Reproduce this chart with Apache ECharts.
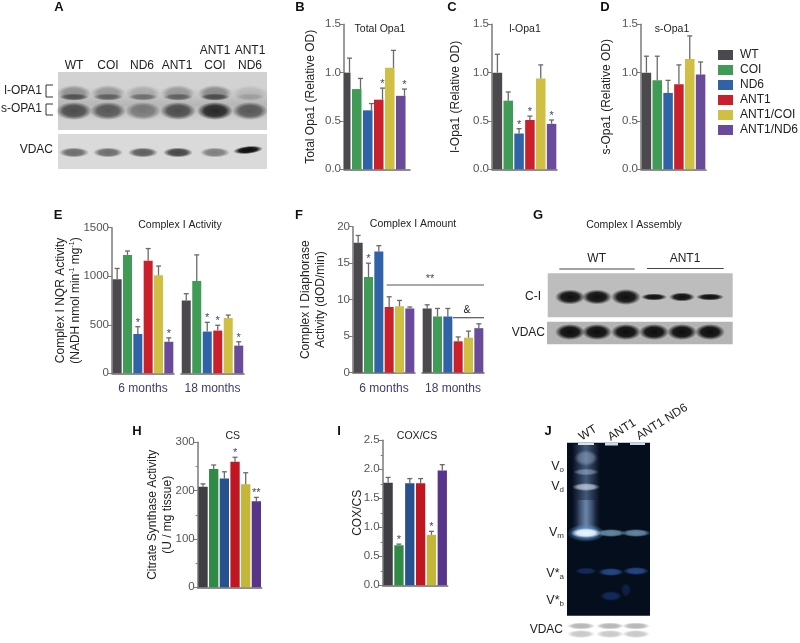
<!DOCTYPE html>
<html>
<head>
<meta charset="utf-8">
<style>
  html, body { margin: 0; background: #fff; }
  #chart { width: 800px; height: 643px; }
</style>
<script src="https://cdn.jsdelivr.net/npm/echarts@6/dist/echarts.min.js"></script>
</head>
<body>
<div id="chart"></div>
<script>
const groups = ["WT", "COI", "ND6", "ANT1", "ANT1/COI", "ANT1/ND6"]
const barColors = ["#4b494d", "#3f9b55", "#2f62a7", "#c9202b", "#cfc043", "#6a4a9a"]
const barColorsDark = ["#3f3e42", "#2f8a45", "#27508f", "#bf1622", "#c4b638", "#57358a"]

// value, top of error bar, significance mark
const totalOpa1Val = [1.0, 0.83, 0.61, 0.72, 1.05, 0.76]
const totalOpa1Top = [1.15, 0.94, 0.68, 0.84, 1.23, 0.83]
const totalOpa1Sig = ["", "", "", "*", "", "*"]
const lOpa1Val = [1.0, 0.71, 0.37, 0.51, 0.94, 0.47]
const lOpa1Top = [1.19, 0.8, 0.42, 0.55, 1.08, 0.51]
const lOpa1Sig = ["", "", "*", "*", "", "*"]
const sOpa1Val = [1.0, 0.92, 0.79, 0.88, 1.14, 0.98]
const sOpa1Top = [1.17, 1.17, 0.92, 1.08, 1.38, 1.11]
const sOpa1Sig = ["", "", "", "", "", ""]

const activity6Val = [970, 1220, 405, 1160, 1010, 325]
const activity6Top = [1080, 1260, 480, 1285, 1105, 365]
const activity6Sig = ["", "", "*", "", "", "*"]
const activity18Val = [750, 950, 430, 440, 570, 285]
const activity18Top = [820, 1220, 525, 495, 600, 325]
const activity18Sig = ["", "", "*", "*", "", "*"]

const amount6Val = [17.8, 13.1, 16.6, 9.0, 9.1, 8.8]
const amount6Top = [18.8, 15.0, 17.4, 10.4, 9.9, 9.0]
const amount6Sig = ["", "*", "", "", "", ""]
const amount18Val = [8.8, 7.7, 7.7, 4.3, 4.8, 6.1]
const amount18Top = [9.3, 8.8, 8.8, 4.9, 5.7, 6.7]
const amount18Sig = ["", "", "", "", "", ""]

const csVal = [208, 245, 225, 260, 213, 178]
const csTop = [214, 253, 239, 269, 237, 186]
const csSig = ["", "", "", "*", "", "**"]
const coxVal = [1.77, 0.69, 1.76, 1.76, 0.87, 1.98]
const coxTop = [1.86, 0.71, 1.84, 1.84, 0.93, 2.08]
const coxSig = ["", "*", "", "", "*", ""]

const FONT = '"Liberation Sans", Arial, sans-serif'
const grids = []
const xAxes = []
const yAxes = []
const series = []

function addPanel(p) {
  const idx = grids.length
  const colors = p.colors || barColors
  grids.push({ left: p.left, top: p.top, width: p.width, height: p.height })
  xAxes.push({
    gridIndex: idx,
    type: "category",
    data: groups,
    axisLine: { show: true, lineStyle: { color: "#6a6a6a", width: 1.5 } },
    axisTick: { show: false },
    axisLabel: { show: false },
    name: p.xName || "",
    nameLocation: "middle",
    nameGap: 9.5,
    nameTextStyle: { color: "#3d3d6c", fontFamily: FONT, fontSize: 12 },
  })
  yAxes.push({
    gridIndex: idx,
    show: p.showY !== false,
    type: "value",
    min: 0,
    max: p.max,
    interval: p.interval,
    axisLine: { show: true, lineStyle: { color: "#7a7a7a", width: 1.5 } },
    axisTick: { show: true, length: 4, lineStyle: { color: "#7a7a7a", width: 1 } },
    minorTick: { show: !!p.minor, splitNumber: 2, length: 2, lineStyle: { color: "#7a7a7a" } },
    splitLine: { show: false },
    axisLabel: { color: "#555", fontFamily: FONT, fontSize: 11.5, margin: 3, formatter: p.format || ((v) => String(v)) },
    name: p.yName || "",
    nameLocation: "middle",
    nameRotate: 90,
    nameGap: p.nameGap,
    nameMoveOverlap: false,
    nameTextStyle: {
      color: "#222",
      fontFamily: FONT,
      fontSize: 12,
      lineHeight: 15,
      rich: { sup: { fontSize: 7, verticalAlign: "top", color: "#222", fontFamily: FONT } },
    },
  })
  series.push({
    type: "bar",
    xAxisIndex: idx,
    yAxisIndex: idx,
    barWidth: p.barWidth,
    data: p.val,
    itemStyle: { color: (params) => colors[params.dataIndex] },
    silent: true,
  })
  series.push({
    type: "custom",
    xAxisIndex: idx,
    yAxisIndex: idx,
    silent: true,
    clip: false,
    z: 3,
    data: p.val.map((v, i) => [i, v, p.err[i]]),
    encode: { x: 0, y: [1, 2] },
    renderItem: (params, api) => {
      const from = api.coord([api.value(0), api.value(1)])
      const to = api.coord([api.value(0), api.value(2)])
      const line = { stroke: "#6a6a6a", lineWidth: 1.3 }
      const children = [
        { type: "line", shape: { x1: from[0], y1: from[1], x2: to[0], y2: to[1] }, style: line },
        { type: "line", shape: { x1: to[0] - 2.5, y1: to[1], x2: to[0] + 2.5, y2: to[1] }, style: line },
      ]
      const sig = p.sig[params.dataIndex]
      if (sig) {
        children.push({
          type: "text",
          x: to[0],
          y: to[1] - 4,
          style: { text: sig, fill: "#3f3f78", font: "11px " + FONT, align: "center", verticalAlign: "middle" },
        })
      }
      return { type: "group", children }
    },
  })
}

const fixed1 = (v) => v.toFixed(1)

addPanel({ left: 344, top: 24.3, width: 66, height: 145, max: 1.5, interval: 0.5, format: fixed1, barWidth: 9.5,
  val: totalOpa1Val, err: totalOpa1Top, sig: totalOpa1Sig, yName: "Total Opa1 (Relative OD)", nameGap: 26 })
addPanel({ left: 492, top: 24.3, width: 65, height: 145, max: 1.5, interval: 0.5, format: fixed1, barWidth: 9.5,
  val: lOpa1Val, err: lOpa1Top, sig: lOpa1Sig, yName: "l-Opa1 (Relative OD)", nameGap: 29 })
addPanel({ left: 641, top: 24.3, width: 65, height: 145, max: 1.5, interval: 0.5, format: fixed1, barWidth: 9.5,
  val: sOpa1Val, err: sOpa1Top, sig: sOpa1Sig, yName: "s-Opa1 (Relative OD)", nameGap: 27 })

addPanel({ left: 112, top: 227.7, width: 62, height: 145.6, max: 1500, interval: 500, barWidth: 9,
  val: activity6Val, err: activity6Top, sig: activity6Sig, xName: "6 months",
  yName: "Complex I NQR Activity\n(NADH nmol min{sup|-1} mg{sup|-1})", nameGap: 28.5 })
addPanel({ left: 181, top: 227.7, width: 63, height: 145.6, max: 1500, interval: 500, barWidth: 9, showY: false,
  val: activity18Val, err: activity18Top, sig: activity18Sig, xName: "18 months" })

addPanel({ left: 353, top: 226.7, width: 62, height: 146, max: 20, interval: 5, barWidth: 9,
  val: amount6Val, err: amount6Top, sig: amount6Sig, xName: "6 months",
  yName: "Complex I Diaphorase\nActivity (dOD/min)", nameGap: 24.5 })
addPanel({ left: 422, top: 226.7, width: 62, height: 146, max: 20, interval: 5, barWidth: 9, showY: false,
  val: amount18Val, err: amount18Top, sig: amount18Sig, xName: "18 months" })

addPanel({ left: 197.7, top: 442.3, width: 64, height: 145, max: 300, interval: 100, minor: true, barWidth: 9.3, colors: barColorsDark,
  val: csVal, err: csTop, sig: csSig, yName: "Citrate Synthase Activity\n(U / mg tissue)", nameGap: 23 })
addPanel({ left: 382.7, top: 440.3, width: 65, height: 145, max: 2.5, interval: 0.5, minor: true, format: fixed1, barWidth: 9.3, colors: barColorsDark,
  val: coxVal, err: coxTop, sig: coxSig, yName: "COX/CS", nameGap: 18 })

// empty series only to feed the legend
groups.forEach((name, i) => {
  series.push({ type: "bar", name, data: [], xAxisIndex: 0, yAxisIndex: 0, itemStyle: { color: barColors[i] } })
})

// page furniture: letters, titles, gels
const els = []
function text(str, x, y, opts = {}) {
  els.push({
    type: "text",
    x,
    y,
    rotation: opts.rotation || 0,
    silent: true,
    style: {
      text: str,
      fill: opts.color || "#222",
      font: (opts.bold ? "bold " : "") + (opts.size || 12) + "px " + FONT,
      align: opts.align || "center",
      verticalAlign: "middle",
      rich: opts.rich,
    },
  })
}
function rect(x, y, w, h, fill) {
  els.push({ type: "rect", silent: true, shape: { x, y, width: w, height: h }, style: { fill } })
}
function line(x1, y1, x2, y2, stroke, lineWidth = 1) {
  els.push({ type: "line", silent: true, shape: { x1, y1, x2, y2 }, style: { stroke, lineWidth } })
}
// soft gel band: a radial gradient circle stretched to an ellipse
function band(cx, cy, rx, ry, rgb, a, tilt = 0) {
  const c = (k) => "rgba(" + rgb.join(",") + "," + k + ")"
  els.push({
    type: "circle",
    silent: true,
    x: cx,
    y: cy,
    scaleX: rx / ry,
    rotation: tilt,
    shape: { cx: 0, cy: 0, r: ry },
    style: {
      fill: {
        type: "radial", x: 0.5, y: 0.5, r: 0.5,
        colorStops: [
          { offset: 0, color: c(a) },
          { offset: 0.6, color: c(a * 0.9) },
          { offset: 1, color: c(0) },
        ],
      },
    },
  })
}

const letters = [["A", 59, 7], ["B", 300, 7], ["C", 452, 7], ["D", 605, 7], ["E", 58, 215], ["F", 299, 215], ["G", 538, 215], ["H", 137, 431], ["I", 339, 431], ["J", 548, 431]]
letters.forEach((l) => text(l[0], l[1], l[2], { bold: true, size: 13, color: "#111" }))

text("Total Opa1", 380, 29, { size: 10.5 })
text("l-Opa1", 525, 29, { size: 10.5 })
text("s-Opa1", 672, 29, { size: 10.5 })
text("Complex I Activity", 180, 225, { size: 10.5 })
text("Complex I Amount", 413, 224, { size: 10.5 })
text("Complex I Assembly", 634, 225, { size: 10.5 })
text("CS", 232.7, 436, { size: 10.5 })
text("COX/CS", 417, 436, { size: 10.5 })

// significance bars over the 6 and 18 month groups in F
line(386.7, 285, 484, 285, "#555", 1.2)
text("**", 430, 279, { color: "#3f3f78", size: 11 })
line(453, 317.7, 484, 317.7, "#555", 1.2)
text("&", 467, 310, { size: 10.5 })

// A: OPA1 blot
const laneA = [74, 108, 143, 178, 215, 250]
rect(58, 72, 209, 58, "#d2d2d2")
rect(58, 134, 209, 35, "#dadada")
rect(58, 88, 209, 33, {
  type: "linear", x: 0, y: 0, x2: 0, y2: 1,
  colorStops: [{ offset: 0, color: "rgba(130,130,130,0)" }, { offset: 0.5, color: "rgba(130,130,130,0.35)" }, { offset: 1, color: "rgba(130,130,130,0)" }],
})
const hazeA = [0.42, 0.36, 0.24, 0.36, 0.46, 0.14]
const streakA = [0.6, 0.5, 0.45, 0.5, 0.65, 0.15]
const lowA = [0.72, 0.65, 0.45, 0.72, 0.95, 0.65]
laneA.forEach((x, i) => {
  band(x, 93, 17, 8, [60, 60, 60], hazeA[i])
  band(x, 97, 15, 3.5, [40, 40, 40], streakA[i])
  band(x, 111, 18, 9, [30, 30, 30], lowA[i])
})
const vdacA = [0.6, 0.6, 0.68, 0.82, 0.5, 0]
laneA.forEach((x, i) => { if (vdacA[i]) band(x, 152.5, 15, 5, [35, 35, 35], vdacA[i]) })
band(248, 150, 15, 4, [10, 10, 10], 1, 0.1)
text("WT", 74, 66)
text("COI", 108, 66)
text("ND6", 142, 66)
text("ANT1", 177, 66)
text("ANT1", 215, 51)
text("COI", 215, 66)
text("ANT1", 250, 51)
text("ND6", 250, 66)
text("l-OPA1", 42, 91, { align: "right" })
text("s-OPA1", 42, 109, { align: "right" })
text("VDAC", 53, 150, { align: "right" })
els.push({ type: "polyline", silent: true, shape: { points: [[53, 85], [46, 85], [46, 97], [53, 97]] }, style: { stroke: "#333", fill: "none", lineWidth: 1 } })
els.push({ type: "polyline", silent: true, shape: { points: [[53, 104], [46, 104], [46, 115], [53, 115]] }, style: { stroke: "#333", fill: "none", lineWidth: 1 } })

// G: complex I assembly blot
const laneG = [570, 597, 626, 654, 682, 710]
rect(547.7, 273.3, 185, 44, "#bdbdbd")
rect(547, 321.7, 185.7, 22.6, "#b4b4b4")
const ciH = [7.5, 7.5, 8, 3.5, 4.5, 3.5]
const ciW = [15, 15, 15, 13, 13, 14]
laneG.forEach((x, i) => {
  band(x, 297, ciW[i], ciH[i], [15, 15, 15], 1)
  band(x, 332, 15, 8, [12, 12, 12], 1)
})
line(559.3, 269, 634.7, 269, "#444", 1)
line(647, 268.5, 723.7, 268.5, "#444", 1)
text("WT", 596.7, 259)
text("ANT1", 685, 259)
text("C-I", 541, 297, { align: "right" })
text("VDAC", 545, 333, { align: "right" })

// J: native gel
const lane = (cx, w, y1, y2, rgb, a) => {
  const c = (k) => "rgba(" + rgb.join(",") + "," + k + ")"
  rect(cx - w / 2, y1, w, y2 - y1, {
    type: "linear", x: 0, y: 0, x2: 1, y2: 0,
    colorStops: [{ offset: 0, color: c(0) }, { offset: 0.5, color: c(a) }, { offset: 1, color: c(0) }],
  })
}
rect(567, 442.7, 83, 173, "#050e1d")
lane(586, 28, 444, 530, [110, 140, 185], 0.6)
lane(586, 20, 500, 532, [150, 185, 225], 0.45)
band(586, 458, 12, 8, [170, 190, 220], 0.45)
band(586, 472, 13, 3.5, [190, 205, 230], 0.45)
band(586, 487, 14, 4, [215, 225, 240], 0.7)
band(586, 533, 19, 9, [90, 150, 210], 0.7)
band(586, 533, 15, 5, [235, 245, 255], 1)
band(611, 533, 15, 4, [125, 165, 195], 0.8)
band(636, 533, 15, 4, [125, 165, 195], 0.8)
band(586, 571, 11, 3.5, [30, 60, 135], 0.6)
band(611, 572, 13, 4, [45, 85, 160], 0.8)
band(636, 571, 13, 4, [45, 85, 160], 0.8)
band(611, 596, 11, 5, [25, 55, 125], 0.7)
band(626, 590, 5, 7, [25, 50, 110], 0.5)
rect(578, 443, 16, 2, "#d8e4ee")
rect(605, 443, 13, 2.5, "#c8dce6")
rect(630, 443, 15, 2, "#c8dce6")
const vdacLanes = [581, 610, 636]
vdacLanes.forEach((x) => {
  band(x, 626, 14, 3.5, [110, 110, 110], 0.5)
  band(x, 634, 14, 4, [125, 125, 125], 0.42)
})
const subs = { s: { fontSize: 8, verticalAlign: "bottom", fill: "#333", color: "#333", fontFamily: FONT, padding: [6, 0, 0, 0] } }
text("V{s|o}", 564, 467, { align: "right", size: 12.5, rich: subs })
text("V{s|d}", 564, 487, { align: "right", size: 12.5, rich: subs })
text("V{s|m}", 564, 533, { align: "right", size: 12.5, rich: subs })
text("V*{s|a}", 564, 574, { align: "right", size: 12.5, rich: subs })
text("V*{s|b}", 564, 601, { align: "right", size: 12.5, rich: subs })
text("VDAC", 563, 630, { align: "right" })
const tilt = (32 * Math.PI) / 180
text("WT", 588, 433, { rotation: tilt })
text("ANT1", 622, 430, { rotation: tilt })
text("ANT1 ND6", 662, 422, { rotation: tilt })

const chart = echarts.init(document.getElementById("chart"))
chart.setOption({
  animation: false,
  backgroundColor: "#fff",
  grid: grids,
  xAxis: xAxes,
  yAxis: yAxes,
  series,
  legend: {
    data: groups,
    orient: "vertical",
    left: 718,
    top: 49,
    padding: 0,
    itemWidth: 15,
    itemHeight: 10,
    itemGap: 3,
    icon: "rect",
    selectedMode: false,
    textStyle: { color: "#222", fontFamily: FONT, fontSize: 12, padding: [0, 0, 0, 2] },
  },
  graphic: { elements: els },
})
</script>
</body>
</html>
